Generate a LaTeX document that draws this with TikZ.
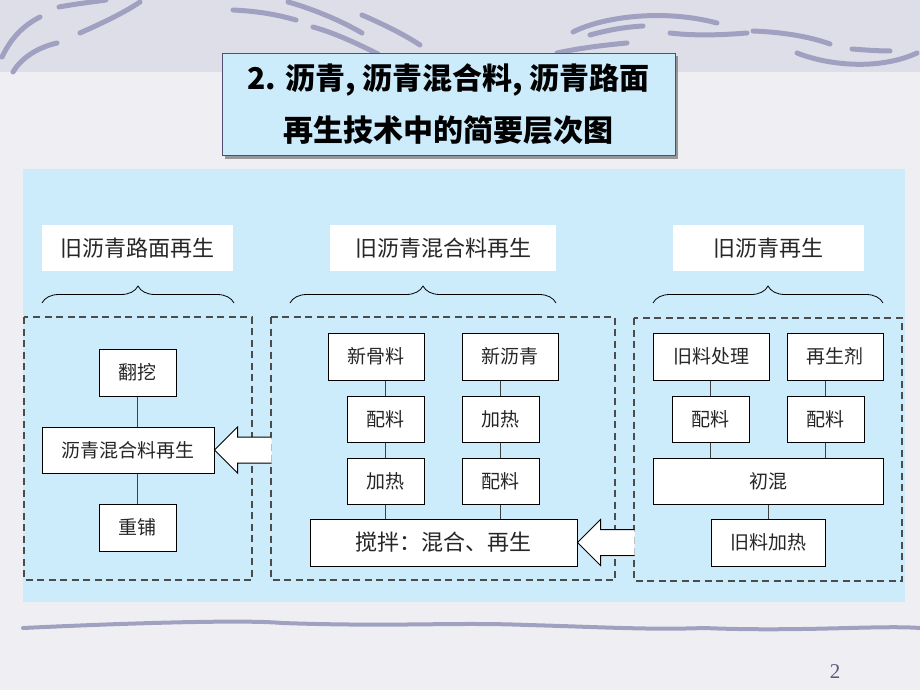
\documentclass[tikz,border=0pt]{standalone}
\usepackage{fontspec}
\setmainfont{Liberation Serif}
\newfontfamily\cjk{Noto Sans CJK SC}
\usetikzlibrary{decorations.pathreplacing,shadows}

\definecolor{slidebg}{HTML}{EFEFF3}
\definecolor{bandbg}{HTML}{DEDEE8}
\definecolor{brush}{HTML}{A0A0C0}
\definecolor{panelblue}{HTML}{CCECFC}
\definecolor{titleedge}{HTML}{50506E}
\definecolor{pagenum}{HTML}{5A5A80}

\tikzset{
  stepbox/.style={draw=black, line width=1pt, fill=white, inner sep=0pt,
    text=black!85, font=\cjk\fontsize{19}{19}\selectfont},
  header/.style={fill=white, inner sep=0pt, minimum width=191pt, minimum height=46pt,
    text=black!85, font=\cjk\fontsize{22}{22}\selectfont},
  link/.style={draw=black!75, line width=0.8pt},
  group/.style={draw=black!70, line width=1.1pt, dash pattern=on 7pt off 4.5pt},
  stroke/.style={draw=brush, line width=5pt, line cap=round},
  bigarrow/.style={draw=black, line width=1pt, line join=miter},
  bracket/.style={decorate, decoration={brace, amplitude=17pt}, line width=0.8pt},
}

\begin{document}
\begin{tikzpicture}[x=1pt, y=-1pt]
  \useasboundingbox (0,0) rectangle (920,690);

  % Slide background
  \fill[slidebg] (0,0) rectangle (920,690);
  \fill[bandbg] (0,0) rectangle (920,72);

  % Brush strokes, top
  \draw[stroke] (2,57) .. controls (10,40) and (22,26) .. (40,17);
  \draw[stroke] (13,72) .. controls (20,60) and (35,48) .. (57,43);
  \draw[stroke] (59,7) .. controls (75,4) and (92,2) .. (106,0);
  \draw[stroke] (80,33) .. controls (100,24) and (122,14) .. (140,2);
  \draw[stroke] (233,10) .. controls (255,11) and (275,14) .. (296,20);
  \draw[stroke] (288,2) .. controls (310,8) and (340,20) .. (362,33);
  \draw[stroke] (313,27) .. controls (335,33) and (358,44) .. (378,54);
  \draw[stroke] (362,15) .. controls (385,25) and (405,35) .. (420,45);
  \draw[stroke] (557,53) .. controls (580,48) and (605,45) .. (627,43);
  \draw[stroke] (573,32) .. controls (600,18) and (660,8) .. (717,23);
  \draw[stroke] (590,35) .. controls (608,30) and (625,27) .. (643,26);
  \draw[stroke] (670,33) .. controls (695,36) and (722,35) .. (747,33);
  \draw[stroke] (753,31) .. controls (780,32) and (808,36) .. (830,44);
  \draw[stroke] (797,53) .. controls (830,66) and (880,70) .. (917,53);
  \draw[stroke] (852,49) .. controls (865,50) and (878,51) .. (890,51);

  % Brush stroke, bottom
  \draw[stroke, line width=4pt] (23,628) .. controls (150,622) and (250,620) .. (282,623)
    .. controls (400,627) and (450,622) .. (528,625)
    .. controls (600,627) and (650,630) .. (704,628)
    .. controls (800,632) and (880,625) .. (920,628);

  % Title
  \node[fill=panelblue, draw=titleedge, line width=1pt, inner sep=0pt,
    minimum width=453pt, minimum height=102pt, align=center,
    drop shadow={shadow xshift=3pt, shadow yshift=-3pt, fill=black!55, opacity=0.7},
    font=\cjk\bfseries\fontsize{30}{52}\selectfont] (title) at (448.5,104.5)
    {2. 沥青, 沥青混合料, 沥青路面\\再生技术中的简要层次图};

  % Blue panel
  \fill[panelblue] (23,169) rectangle (905,602);

  % Headers and braces
  \node[header] (hdrRoad) at (137.5,248) {旧沥青路面再生};
  \node[header, minimum width=226pt] (hdrMix) at (443,248) {旧沥青混合料再生};
  \node[header] (hdrBit) at (768,248) {旧沥青再生};

  \draw[bracket] (42,303) -- (234,303);
  \draw[bracket] (290,303) -- (556,303);
  \draw[bracket] (653,303) -- (883,303);

  % Dashed groups
  \draw[group] (24,317) rectangle (252,580);
  \draw[group] (271,317) rectangle (615,580);
  \draw[group] (634,318) rectangle (902,581);

  % Road recycling
  \node[stepbox, minimum width=77pt, minimum height=47pt] (fanwa) at (137.5,372.5) {翻挖};
  \node[stepbox, minimum width=172pt, minimum height=46pt] (zaisheng) at (128,450) {沥青混合料再生};
  \node[stepbox, minimum width=77pt, minimum height=47pt] (chongpu) at (137.5,527.5) {重铺};

  \draw[link] (fanwa) -- (fanwa |- zaisheng.north);
  \draw[link] (chongpu) -- (chongpu |- zaisheng.south);

  % Mixture recycling
  \node[stepbox, minimum width=96pt, minimum height=47pt] (xingl) at (376,356.5) {新骨料};
  \node[stepbox, minimum width=96pt, minimum height=47pt] (xinlq) at (510,356.5) {新沥青};
  \node[stepbox, minimum width=77pt, minimum height=46pt] (peiA) at (385.5,419) {配料};
  \node[stepbox, minimum width=77pt, minimum height=46pt] (jrA) at (385.5,481) {加热};
  \node[stepbox, minimum width=77pt, minimum height=46pt] (jrB) at (500.5,419) {加热};
  \node[stepbox, minimum width=77pt, minimum height=46pt] (peiB) at (500.5,481) {配料};
  \node[stepbox, minimum width=267pt, minimum height=47pt,
    font=\cjk\fontsize{22}{22}\selectfont] (jiaoban) at (443.5,542.5) {搅拌：混合、再生};

  \draw[link] (peiA) -- (peiA |- xingl.south);
  \draw[link] (peiA) -- (jrA);
  \draw[link] (jrA) -- (jrA |- jiaoban.north);
  \draw[link] (jrB) -- (jrB |- xinlq.south);
  \draw[link] (jrB) -- (peiB);
  \draw[link] (peiB) -- (peiB |- jiaoban.north);

  % Binder recycling
  \node[stepbox, minimum width=116pt, minimum height=47pt] (jlcl) at (711,356.5) {旧料处理};
  \node[stepbox, minimum width=96pt, minimum height=47pt] (zsj) at (835,356.5) {再生剂};
  \node[stepbox, minimum width=77pt, minimum height=46pt] (peiC) at (710.5,419) {配料};
  \node[stepbox, minimum width=77pt, minimum height=46pt] (peiD) at (825.5,419) {配料};
  \node[stepbox, minimum width=230pt, minimum height=46pt] (chuhun) at (768,481) {初混};
  \node[stepbox, minimum width=114pt, minimum height=47pt] (jljr) at (768,542.5) {旧料加热};

  \draw[link] (peiC) -- (peiC |- jlcl.south);
  \draw[link] (peiC) -- (peiC |- chuhun.north);
  \draw[link] (peiD) -- (peiD |- zsj.south);
  \draw[link] (peiD) -- (peiD |- chuhun.north);
  \draw[link] (chuhun) -- (jljr);

  % Block arrows into the left boxes
  \fill[white] (zaisheng.east) -- ++(23,-23) -- ++(0,10) -- ++(34,0) -- ++(0,26)
    -- ++(-34,0) -- ++(0,10) -- cycle;
  \draw[bigarrow] (zaisheng.east) ++(57,-13) -- ++(-34,0) -- ++(0,-10)
    -- (zaisheng.east) -- ++(23,23) -- ++(0,-10) -- ++(34,0);

  \fill[white] (jiaoban.east) -- ++(23,-23) -- ++(0,10) -- ++(34,0) -- ++(0,27)
    -- ++(-34,0) -- ++(0,10) -- cycle;
  \draw[bigarrow] (jiaoban.east) ++(57,-13) -- ++(-34,0) -- ++(0,-10)
    -- (jiaoban.east) -- ++(23,23) -- ++(0,-10) -- ++(34,0);

  % Page number
  \node[text=pagenum, font=\fontsize{21}{21}\selectfont] (page) at (835,672) {2};
\end{tikzpicture}
\end{document}
